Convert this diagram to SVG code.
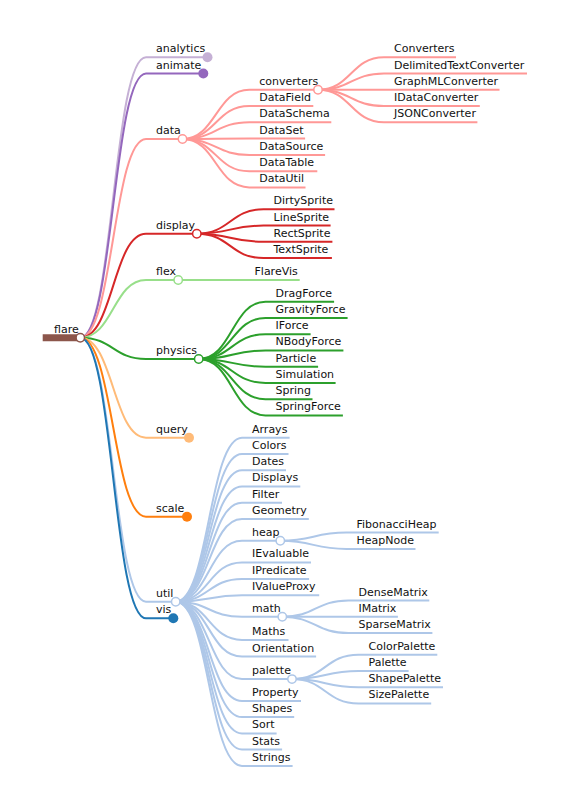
<svg xmlns="http://www.w3.org/2000/svg" width="582" height="797" viewBox="0 0 582 797">
<style>
text{font-family:"DejaVu Sans","Liberation Sans",sans-serif;font-size:11px;fill:#111}
.l{fill:none;stroke-width:2}
.h{fill:#fff;stroke-width:1.5}
.an{stroke:#c5b0d5}.am{stroke:#9467bd}.da{stroke:#ff9896}.di{stroke:#d62728}.fl{stroke:#98df8a}.ph{stroke:#2ca02c}.qu{stroke:#ffbb78}.sc{stroke:#ff7f0e}.ut{stroke:#aec7e8}.vi{stroke:#1f77b4}.rt{stroke:#8c564b}
</style>
<rect width="582" height="797" fill="#fff"/>
<g id="connectors">
<path class="l rt" d="M42.7,337.7H80.3" style="stroke-width:7"/>
<path class="l an" d="M80.3,337.7C113.2,337.7 113.2,57.3 146,57.3H207.5"/>
<path class="l am" d="M80.3,337.7C113.2,337.7 113.2,73.5 146,73.5H203.3"/>
<path class="l da" d="M80.3,337.7C113.2,337.7 113.2,139 146,139H182.5"/>
<path class="l di" d="M80.3,337.7C113.2,337.7 113.2,233.7 146,233.7H196.8"/>
<path class="l fl" d="M80.3,337.7C113.2,337.7 113.2,280 146,280H178.2"/>
<path class="l ph" d="M80.3,337.7C113.2,337.7 113.2,359 146,359H198.7"/>
<path class="l qu" d="M80.3,337.7C113.2,337.7 113.2,437.7 146,437.7H189"/>
<path class="l sc" d="M80.3,337.7C113.2,337.7 113.2,516.7 146,516.7H187"/>
<path class="l ut" d="M80.3,337.7C113.2,337.7 113.2,601.7 146,601.7H175.7"/>
<path class="l vi" d="M80.3,337.7C113.2,337.7 113.2,618.3 146,618.3H173.3"/>
<!-- data -->
<path class="l da" d="M182.5,139C215.9,139 215.9,89.8 249.3,89.8H318"/>
<path class="l da" d="M182.5,139C215.9,139 215.9,106 249.3,106H313.3"/>
<path class="l da" d="M182.5,139C215.9,139 215.9,122.3 249.3,122.3H331.3"/>
<path class="l da" d="M182.5,139C215.9,139 215.9,138.5 249.3,138.5H305.1"/>
<path class="l da" d="M182.5,139C215.9,139 215.9,154.9 249.3,154.9H325.1"/>
<path class="l da" d="M182.5,139C215.9,139 215.9,171.3 249.3,171.3H317.3"/>
<path class="l da" d="M182.5,139C215.9,139 215.9,187.4 249.3,187.4H305.5"/>
<!-- converters -->
<path class="l da" d="M318,89.8C351,89.8 351,57.3 384,57.3H456"/>
<path class="l da" d="M318,89.8C351,89.8 351,73.55 384,73.55H527"/>
<path class="l da" d="M318,89.8C351,89.8 351,89.8 384,89.8H499.5"/>
<path class="l da" d="M318,89.8C351,89.8 351,106 384,106H479.8"/>
<path class="l da" d="M318,89.8C351,89.8 351,122.3 384,122.3H477.4"/>
<!-- display -->
<path class="l di" d="M196.8,233.7C230.2,233.7 230.2,209.3 263.5,209.3H334.5"/>
<path class="l di" d="M196.8,233.7C230.2,233.7 230.2,225.6 263.5,225.6H330.6"/>
<path class="l di" d="M196.8,233.7C230.2,233.7 230.2,241.8 263.5,241.8H332.4"/>
<path class="l di" d="M196.8,233.7C230.2,233.7 230.2,258.1 263.5,258.1H331.9"/>
<!-- flex -->
<path class="l fl" d="M178.2,280C211.4,280 211.4,280 244.5,280H299.7"/>
<!-- physics -->
<path class="l ph" d="M198.7,359C232.1,359 232.1,301.7 265.5,301.7H334.1"/>
<path class="l ph" d="M198.7,359C232.1,359 232.1,317.9 265.5,317.9H347.6"/>
<path class="l ph" d="M198.7,359C232.1,359 232.1,334.2 265.5,334.2H310.6"/>
<path class="l ph" d="M198.7,359C232.1,359 232.1,350.4 265.5,350.4H343.4"/>
<path class="l ph" d="M198.7,359C232.1,359 232.1,366.7 265.5,366.7H318.1"/>
<path class="l ph" d="M198.7,359C232.1,359 232.1,382.9 265.5,382.9H335.6"/>
<path class="l ph" d="M198.7,359C232.1,359 232.1,399.2 265.5,399.2H312.5"/>
<path class="l ph" d="M198.7,359C232.1,359 232.1,415.4 265.5,415.4H342.9"/>
<!-- util -->
<path class="l ut" d="M175.7,601.7C208.9,601.7 208.9,437.7 242,437.7H289.6"/>
<path class="l ut" d="M175.7,601.7C208.9,601.7 208.9,453.95 242,453.95H288.5"/>
<path class="l ut" d="M175.7,601.7C208.9,601.7 208.9,470.2 242,470.2H286"/>
<path class="l ut" d="M175.7,601.7C208.9,601.7 208.9,486.45 242,486.45H300.3"/>
<path class="l ut" d="M175.7,601.7C208.9,601.7 208.9,502.7 242,502.7H282"/>
<path class="l ut" d="M175.7,601.7C208.9,601.7 208.9,518.95 242,518.95H308.8"/>
<path class="l ut" d="M175.7,601.7C208.9,601.7 208.9,540.8 242,540.8H280.3"/>
<path class="l ut" d="M175.7,601.7C208.9,601.7 208.9,562.4 242,562.4H311"/>
<path class="l ut" d="M175.7,601.7C208.9,601.7 208.9,578.9 242,578.9H309.1"/>
<path class="l ut" d="M175.7,601.7C208.9,601.7 208.9,595.2 242,595.2H319.2"/>
<path class="l ut" d="M175.7,601.7C208.9,601.7 208.9,616.8 242,616.8H282.3"/>
<path class="l ut" d="M175.7,601.7C208.9,601.7 208.9,639.9 242,639.9H288.5"/>
<path class="l ut" d="M175.7,601.7C208.9,601.7 208.9,656.5 242,656.5H316.1"/>
<path class="l ut" d="M175.7,601.7C208.9,601.7 208.9,679.1 242,679.1H292"/>
<path class="l ut" d="M175.7,601.7C208.9,601.7 208.9,700.9 242,700.9H301"/>
<path class="l ut" d="M175.7,601.7C208.9,601.7 208.9,717.1 242,717.1H294.2"/>
<path class="l ut" d="M175.7,601.7C208.9,601.7 208.9,733.4 242,733.4H276.6"/>
<path class="l ut" d="M175.7,601.7C208.9,601.7 208.9,749.6 242,749.6H282.1"/>
<path class="l ut" d="M175.7,601.7C208.9,601.7 208.9,765.9 242,765.9H292.6"/>
<!-- heap -->
<path class="l ut" d="M280.3,540.8C313.4,540.8 313.4,532.6 346.5,532.6H438.7"/>
<path class="l ut" d="M280.3,540.8C313.4,540.8 313.4,548.9 346.5,548.9H415.5"/>
<!-- math -->
<path class="l ut" d="M282.3,616.8C315.4,616.8 315.4,600.55 348.5,600.55H429.3"/>
<path class="l ut" d="M282.3,616.8C315.4,616.8 315.4,616.8 348.5,616.8H397.9"/>
<path class="l ut" d="M282.3,616.8C315.4,616.8 315.4,633.05 348.5,633.05H432.4"/>
<!-- palette -->
<path class="l ut" d="M292,679.1C325.3,679.1 325.3,654.7 358.5,654.7H437.3"/>
<path class="l ut" d="M292,679.1C325.3,679.1 325.3,670.95 358.5,670.95H408.6"/>
<path class="l ut" d="M292,679.1C325.3,679.1 325.3,687.2 358.5,687.2H443"/>
<path class="l ut" d="M292,679.1C325.3,679.1 325.3,703.45 358.5,703.45H431.2"/>
</g>
<g id="nodes">
<g id="n-flare"><text x="54" y="332.7">flare</text><circle class="h rt" cx="80.3" cy="337.7" r="4.2"/></g>
<g id="n-analytics"><text x="156" y="52.3">analytics</text><circle cx="207.5" cy="57.3" r="5" fill="#c5b0d5"/></g>
<g id="n-animate"><text x="156" y="68.5">animate</text><circle cx="203.3" cy="73.5" r="5" fill="#9467bd"/></g>
<g id="n-data"><text x="156" y="134">data</text><circle class="h da" cx="182.5" cy="139" r="4.2"/></g>
<g id="n-converters"><text x="259.3" y="84.8">converters</text><circle class="h da" cx="318" cy="89.8" r="4.2"/></g>
<g id="n-Converters"><text x="394" y="52.3">Converters</text></g>
<g id="n-DelimitedTextConverter"><text x="394" y="68.55">DelimitedTextConverter</text></g>
<g id="n-GraphMLConverter"><text x="394" y="84.8">GraphMLConverter</text></g>
<g id="n-IDataConverter"><text x="394" y="101">IDataConverter</text></g>
<g id="n-JSONConverter"><text x="394" y="117.3">JSONConverter</text></g>
<g id="n-DataField"><text x="259.3" y="101">DataField</text></g>
<g id="n-DataSchema"><text x="259.3" y="117.3">DataSchema</text></g>
<g id="n-DataSet"><text x="259.3" y="133.5">DataSet</text></g>
<g id="n-DataSource"><text x="259.3" y="149.9">DataSource</text></g>
<g id="n-DataTable"><text x="259.3" y="166.3">DataTable</text></g>
<g id="n-DataUtil"><text x="259.3" y="182.4">DataUtil</text></g>
<g id="n-display"><text x="156" y="228.7">display</text><circle class="h di" cx="196.8" cy="233.7" r="4.2"/></g>
<g id="n-DirtySprite"><text x="273.5" y="204.3">DirtySprite</text></g>
<g id="n-LineSprite"><text x="273.5" y="220.6">LineSprite</text></g>
<g id="n-RectSprite"><text x="273.5" y="236.8">RectSprite</text></g>
<g id="n-TextSprite"><text x="273.5" y="253.1">TextSprite</text></g>
<g id="n-flex"><text x="156" y="275">flex</text><circle class="h fl" cx="178.2" cy="280" r="4.2"/></g>
<g id="n-FlareVis"><text x="254.5" y="275">FlareVis</text></g>
<g id="n-physics"><text x="156" y="354">physics</text><circle class="h ph" cx="198.7" cy="359" r="4.2"/></g>
<g id="n-DragForce"><text x="275.5" y="296.7">DragForce</text></g>
<g id="n-GravityForce"><text x="275.5" y="312.9">GravityForce</text></g>
<g id="n-IForce"><text x="275.5" y="329.2">IForce</text></g>
<g id="n-NBodyForce"><text x="275.5" y="345.4">NBodyForce</text></g>
<g id="n-Particle"><text x="275.5" y="361.7">Particle</text></g>
<g id="n-Simulation"><text x="275.5" y="377.9">Simulation</text></g>
<g id="n-Spring"><text x="275.5" y="394.2">Spring</text></g>
<g id="n-SpringForce"><text x="275.5" y="410.4">SpringForce</text></g>
<g id="n-query"><text x="156" y="432.7">query</text><circle cx="189" cy="437.7" r="5" fill="#ffbb78"/></g>
<g id="n-scale"><text x="156" y="511.7">scale</text><circle cx="187" cy="516.7" r="5" fill="#ff7f0e"/></g>
<g id="n-util"><text x="156" y="596.7">util</text><circle class="h ut" cx="175.7" cy="601.7" r="4.2"/></g>
<g id="n-Arrays"><text x="252" y="432.7">Arrays</text></g>
<g id="n-Colors"><text x="252" y="448.95">Colors</text></g>
<g id="n-Dates"><text x="252" y="465.2">Dates</text></g>
<g id="n-Displays"><text x="252" y="481.45">Displays</text></g>
<g id="n-Filter"><text x="252" y="497.7">Filter</text></g>
<g id="n-Geometry"><text x="252" y="513.95">Geometry</text></g>
<g id="n-heap"><text x="252" y="535.8">heap</text><circle class="h ut" cx="280.3" cy="540.8" r="4.2"/></g>
<g id="n-FibonacciHeap"><text x="356.5" y="527.6">FibonacciHeap</text></g>
<g id="n-HeapNode"><text x="356.5" y="543.9">HeapNode</text></g>
<g id="n-IEvaluable"><text x="252" y="557.4">IEvaluable</text></g>
<g id="n-IPredicate"><text x="252" y="573.9">IPredicate</text></g>
<g id="n-IValueProxy"><text x="252" y="590.2">IValueProxy</text></g>
<g id="n-math"><text x="252" y="611.8">math</text><circle class="h ut" cx="282.3" cy="616.8" r="4.2"/></g>
<g id="n-DenseMatrix"><text x="358.5" y="595.55">DenseMatrix</text></g>
<g id="n-IMatrix"><text x="358.5" y="611.8">IMatrix</text></g>
<g id="n-SparseMatrix"><text x="358.5" y="628.05">SparseMatrix</text></g>
<g id="n-Maths"><text x="252" y="634.9">Maths</text></g>
<g id="n-Orientation"><text x="252" y="651.5">Orientation</text></g>
<g id="n-palette"><text x="252" y="674.1">palette</text><circle class="h ut" cx="292" cy="679.1" r="4.2"/></g>
<g id="n-ColorPalette"><text x="368.5" y="649.7">ColorPalette</text></g>
<g id="n-Palette"><text x="368.5" y="665.95">Palette</text></g>
<g id="n-ShapePalette"><text x="368.5" y="682.2">ShapePalette</text></g>
<g id="n-SizePalette"><text x="368.5" y="698.45">SizePalette</text></g>
<g id="n-Property"><text x="252" y="695.9">Property</text></g>
<g id="n-Shapes"><text x="252" y="712.1">Shapes</text></g>
<g id="n-Sort"><text x="252" y="728.4">Sort</text></g>
<g id="n-Stats"><text x="252" y="744.6">Stats</text></g>
<g id="n-Strings"><text x="252" y="760.9">Strings</text></g>
<g id="n-vis"><text x="156" y="613.3">vis</text><circle cx="173.3" cy="618.3" r="5" fill="#1f77b4"/></g>
</g>
</svg>
